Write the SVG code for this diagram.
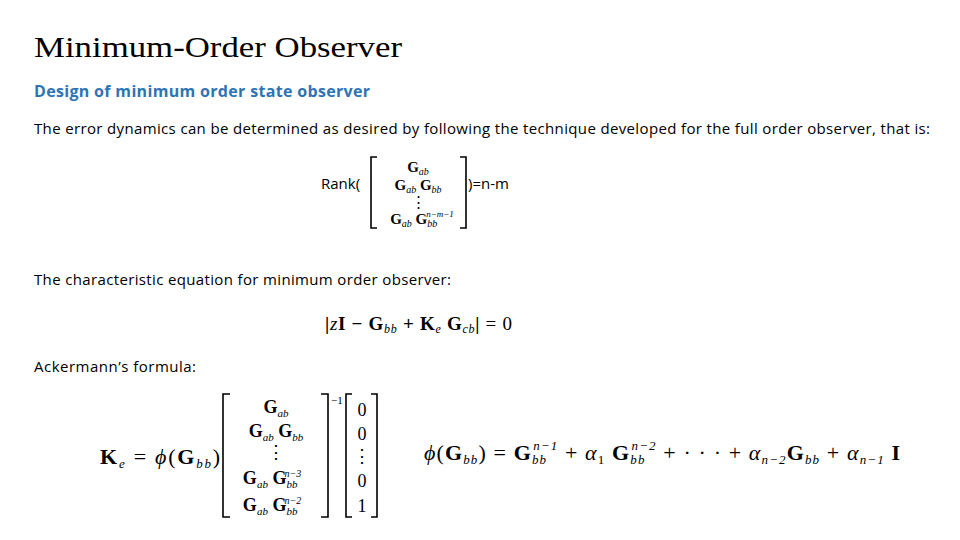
<svg xmlns="http://www.w3.org/2000/svg" width="960" height="540" viewBox="0 0 960 540">
<style>
.t{font-family:"Liberation Serif",serif;fill:#000}
.b{font-family:"Open Sans","Liberation Sans",sans-serif;fill:#000;font-size:15px}
.m{font-family:"Liberation Serif",serif;fill:#000;font-weight:bold}
.i{font-style:italic;font-weight:normal}
.br{fill:none;stroke:#000;stroke-width:1.6}
</style>
<rect width="960" height="540" fill="#fff"/>
<text class="t" x="34" y="57" font-size="30" textLength="368" lengthAdjust="spacingAndGlyphs">Minimum-Order Observer</text>
<text x="34" y="97" font-family="Open Sans,Liberation Sans,sans-serif" font-size="16" font-weight="bold" fill="#2E74B5" textLength="336">Design of minimum order state observer</text>
<text class="b" x="34" y="134" textLength="896">The error dynamics can be determined as desired by following the technique developed for the full order observer, that is:</text>
<g id="rank">
<text class="b" x="321" y="189">Rank(</text>
<path class="br" d="M377,157 h-6 v71 h6 M460,157 h6 v71 h-6"/>
<g class="m" font-size="15" text-anchor="middle">
<text x="418" y="172">G<tspan class="i" font-size="10" dy="3">ab</tspan></text>
<text x="418" y="190">G<tspan class="i" font-size="10" dy="3">ab</tspan><tspan dy="-3"> G</tspan><tspan class="i" font-size="10" dy="3">bb</tspan></text>
<text x="418" y="207" font-weight="normal">⋮</text>
<text x="422" y="224">G<tspan class="i" font-size="10" dy="3">ab</tspan><tspan dy="-3"> G</tspan><tspan class="i" font-size="10" dy="3">bb</tspan><tspan class="i" font-size="9" dx="-11" dy="-10">n−m−1</tspan></text>
</g>
<text class="b" x="468" y="189">)=n-m</text>
</g>
<text class="b" x="34" y="285" textLength="417">The characteristic equation for minimum order observer:</text>
<text class="m" x="325" y="330" font-size="19" textLength="187">|<tspan class="i">z</tspan>I − G<tspan class="i" font-size="12" dy="3">bb</tspan><tspan dy="-3"> + K</tspan><tspan class="i" font-size="12" dy="3">e</tspan><tspan dy="-3"> G</tspan><tspan class="i" font-size="12" dy="3">cb</tspan><tspan dy="-3">| </tspan><tspan font-weight="normal">= 0</tspan></text>
<text class="b" x="34" y="372" textLength="162">Ackermann’s formula:</text>
<g id="acker">
<text class="m" x="100" y="464" font-size="22" textLength="120">K<tspan class="i" font-size="13" dy="4">e</tspan><tspan dy="-4" font-weight="normal"> = </tspan><tspan class="i">ϕ</tspan><tspan font-weight="normal">(</tspan>G<tspan class="i" font-size="13" dy="4">bb</tspan><tspan dy="-4" font-weight="normal">)</tspan></text>
<path class="br" d="M230,394 h-7 v123 h7 M321,394 h7 v123 h-7 M352,394 h-6 v123 h6 M371,394 h6 v123 h-6"/>
<text x="331" y="404" class="t" font-size="11">−1</text>
<g class="m" font-size="18" text-anchor="middle">
<text x="276" y="413">G<tspan class="i" font-size="11" dy="4">ab</tspan></text>
<text x="276" y="437">G<tspan class="i" font-size="11" dy="4">ab</tspan><tspan dy="-4"> G</tspan><tspan class="i" font-size="11" dy="4">bb</tspan></text>
<text x="276" y="458" font-weight="normal">⋮</text>
<text x="272" y="484">G<tspan class="i" font-size="11" dy="4">ab</tspan><tspan dy="-4"> G</tspan><tspan class="i" font-size="11" dy="4">bb</tspan><tspan class="i" font-size="10" dx="-13" dy="-11">n−3</tspan></text>
<text x="272" y="511">G<tspan class="i" font-size="11" dy="4">ab</tspan><tspan dy="-4"> G</tspan><tspan class="i" font-size="11" dy="4">bb</tspan><tspan class="i" font-size="10" dx="-13" dy="-11">n−2</tspan></text>
<g font-weight="normal"><text x="362" y="416">0</text><text x="362" y="440">0</text><text x="362" y="462">⋮</text><text x="362" y="487">0</text><text x="362" y="512">1</text></g>
</g>
<text class="m" x="424" y="460" font-size="22" textLength="476"><tspan class="i">ϕ</tspan><tspan font-weight="normal">(</tspan>G<tspan class="i" font-size="13" dy="4">bb</tspan><tspan dy="-4" font-weight="normal">) = </tspan>G<tspan class="i" font-size="13" dy="4">bb</tspan><tspan class="i" font-size="13" dx="-14" dy="-14">n−1</tspan><tspan font-weight="normal" dy="10"> + </tspan><tspan class="i">α</tspan><tspan font-size="13" font-weight="normal" dy="4">1</tspan><tspan dy="-4"> G</tspan><tspan class="i" font-size="13" dy="4">bb</tspan><tspan class="i" font-size="13" dx="-14" dy="-14">n−2</tspan><tspan font-weight="normal" dy="10"> + · · · + </tspan><tspan class="i">α</tspan><tspan class="i" font-size="13" dy="4">n−2</tspan><tspan dy="-4">G</tspan><tspan class="i" font-size="13" dy="4">bb</tspan><tspan dy="-4" font-weight="normal"> + </tspan><tspan class="i">α</tspan><tspan class="i" font-size="13" dy="4">n−1</tspan><tspan dy="-4"> I</tspan></text>
</g>
</svg>
